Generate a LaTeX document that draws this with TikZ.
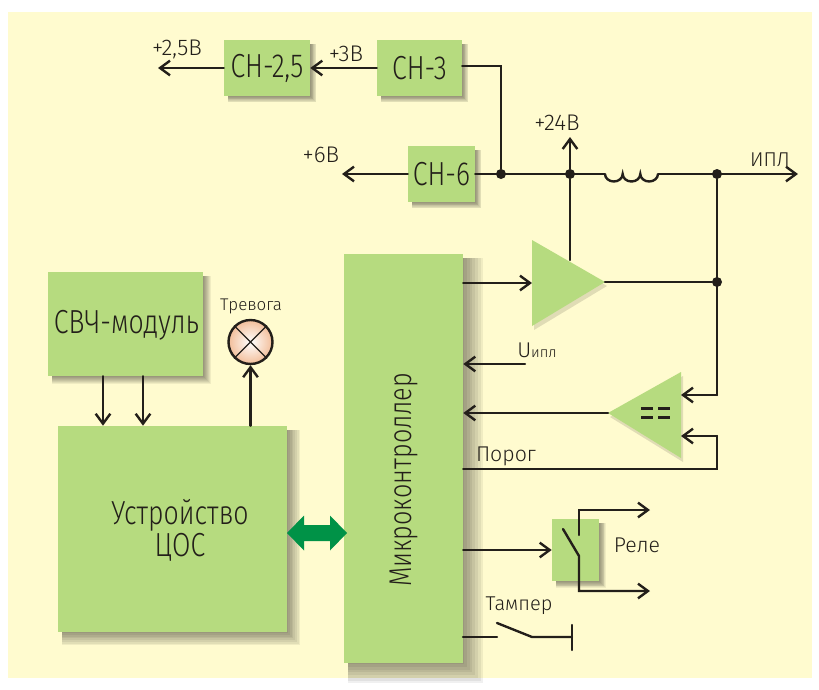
\documentclass[tikz,border=0pt]{standalone}
\usepackage{fontspec}
\setmainfont[FakeStretch=0.8,UprightFont={* Light}]{Fira Sans}
\newfontfamily\labfont[FakeStretch=1.0,UprightFont={* Light}]{Fira Sans}
\usetikzlibrary{arrows.meta}
\definecolor{cream}{HTML}{FFFBCF}
\definecolor{boxgreen}{HTML}{B6DB7F}
\definecolor{wire}{HTML}{231F1A}
\definecolor{bus}{HTML}{009247}
\definecolor{peach}{HTML}{F2BE9A}
\newcommand{\softshadow}[5]{% x1 y1 x2 y2 radius
  \foreach \k in {1,...,8}{
    \pgfmathsetmacro{\rr}{#5*(1-\k/8)}
    \fill[black,opacity=0.06] (#1+4,#2+4) rectangle (#3+1+\rr,#4+1+\rr);
  }}
\tikzset{
  x=0.75pt,y=-0.75pt,
  wirel/.style={draw=wire,line width=1.8pt,line cap=round,line join=miter},
  arr/.style={wirel,-{Straight Barb[length=7.5pt,width=11pt,line width=1.8pt]}},
  block/.style={fill=boxgreen,inner sep=0pt,text=wire,align=center},
  big/.style={font=\fontsize{25}{26}\selectfont},
  lab/.style={text=wire,inner sep=0pt,font=\labfont\fontsize{16}{18}\selectfont},
  dot/.style={circle,fill=wire,inner sep=0pt,minimum size=7.5pt},
  tri/.style={fill=boxgreen}
}
\begin{document}
\begin{tikzpicture}
\useasboundingbox (0,0) rectangle (819,690);
\fill[white] (0,0) rectangle (819,690);
\fill[cream] (8,12) rectangle (812,678);
% shadows
\softshadow{224}{40}{310}{96}{6}
\softshadow{377}{40}{462}{96}{6}
\softshadow{408}{146}{475}{202}{6}
\softshadow{48}{272}{203}{376}{8}
\softshadow{58}{426}{287}{632}{14}
\softshadow{344}{254}{463}{663}{22}
\softshadow{552}{519}{599}{581}{7}
\fill[black,opacity=0.12] (534,244) -- (534,330) -- (607,286) -- cycle;
\fill[black,opacity=0.12] (683,376) -- (683,462) -- (610,417) -- cycle;
% blocks
\node[block,big,minimum width=64.5pt,minimum height=42pt] (ch25) at (267,68) {СН-2,5};
\node[block,big,minimum width=63.75pt,minimum height=42pt] (ch3) at (419.5,68) {СН-3};
\node[block,big,minimum width=50.25pt,minimum height=42pt] (ch6) at (441.5,174) {СН-6};
\node[block,minimum width=116.25pt,minimum height=78pt] (svch) at (125.5,324) {};
\node[text=wire,inner sep=0pt,big] (svchtxt) at (126.5,325) {СВЧ-модуль};
\node[block,minimum width=171.75pt,minimum height=154.5pt] (dsp) at (172.5,529) {};
\node[text=wire,inner sep=0pt,big] (dsptxt1) at (180,515) {Устройство};
\node[text=wire,inner sep=0pt,big] (dsptxt2) at (180,547) {ЦОС};
\node[block,minimum width=89.25pt,minimum height=306.75pt] (mcu) at (403.5,458.5) {};
\node[text=wire,inner sep=0pt,rotate=90,font=\fontsize{23.6}{25}\selectfont] (mcutxt) at (404,480) {Микроконтроллер};
\node[block,minimum width=35.25pt,minimum height=46.5pt] (relay) at (575.5,550) {};
% triangles
\coordinate (a1) at (532,240); \coordinate (a2) at (532,326); \coordinate (aout) at (605,282);
\fill[tri] (a1) -- (a2) -- (aout) -- cycle;
\coordinate (c1) at (681,372); \coordinate (c2) at (681,458); \coordinate (cout) at (608,413);
\fill[tri] (c1) -- (c2) -- (cout) -- cycle;
\draw[wire,line width=1.7pt] (641,408.5) -- (653,408.5) (641,417.5) -- (653,417.5) (658,408.5) -- (670,408.5) (658,417.5) -- (670,417.5);
% lamp
\node[circle,minimum size=33pt,inner sep=0pt,draw=wire,line width=1.8pt,inner color=white,outer color=peach] (lamp) at (250.5,342) {};
\draw[wire,line width=0.9pt] (lamp.north west) -- (lamp.south east) (lamp.north east) -- (lamp.south west);
% upper rail
\coordinate (o25) at (158,68);
\coordinate (o6) at (342,174);
\node[dot] (j1) at (501,174) {};
\node[dot] (j2) at (570,174) {};
\node[dot] (j3) at (717,174) {};
\node[dot] (j4) at (717,282) {};
\coordinate (o24) at (570,137);
\coordinate (oipl) at (798,174);
\coordinate (l1) at (605,174);
\coordinate (l2) at (658,174);
\draw[arr] (ch25.west) -- (o25);
\draw[arr] (ch3.west) -- (ch25.east);
\draw[arr] (ch6.west) -- (o6);
\draw[wirel] (ch3.east |- 0,66) -- (501,66) -- (j1);
\draw[wirel] (ch6.east) -- (l1);
\draw[wirel,line cap=butt] (l1) arc[start angle=180,end angle=0,x radius=8.83,y radius=7.5]
  arc[start angle=180,end angle=0,x radius=8.83,y radius=7.5]
  arc[start angle=180,end angle=0,x radius=8.83,y radius=7.5];
\draw[arr] (l2) -- (oipl);
\draw[arr] (j2) -- (o24);
\draw[wirel] (j2) -- (570,260);
\draw[wirel] (aout) -- (j4);
\draw[wirel] (j3) -- (717,395);
\draw[arr] (717,395) -- (c1 |- 0,395);
\draw[arr] (mcu.east |- 0,283) -- (a1 |- 0,283);
\coordinate (uipl) at (525,364);
\draw[arr] (uipl) -- (mcu.east |- uipl);
\draw[arr] (cout) -- (mcu.east |- cout);
\draw[wirel] (mcu.east |- 0,469) -- (717,469) -- (717,436);
\draw[arr] (717,436) -- (c1 |- 0,436);
% relay
\draw[arr] (mcu.east |- relay) -- (relay.west);
\coordinate (r1) at (650,510);
\coordinate (r2) at (650,591);
\draw[arr] (579,535) -- (579,510) -- (r1);
\draw[arr] (563,529) -- (579,556) -- (579,591) -- (r2);
% tamper
\coordinate (t0) at (463,637); \coordinate (t1) at (497,637); \coordinate (t2) at (497,623); \coordinate (t3) at (532,637); \coordinate (t4) at (572,637);
\draw[wirel] (t0) -- (t1);
\draw[wirel] (t2) -- (t3) -- (t4);
\draw[wirel] (572,625) -- (572,650);
% left
\draw[arr] (svch.south -| 103,0) -- (dsp.north -| 103,0);
\draw[arr] (svch.south -| 143,0) -- (dsp.north -| 143,0);
\draw[arr] (dsp.north -| lamp.south) -- (lamp.south);
% bus arrow
\fill[bus] (287,533) -- (304,515.5) -- (304,525) -- (330,525) -- (330,515.5) -- (347,533) -- (330,550.5) -- (330,541) -- (304,541) -- (304,550.5) -- cycle;
% labels
\node[lab,font=\labfont\fontsize{17}{18}\selectfont] (t25) at (177,49) {+2,5В};
\node[lab,font=\labfont\fontsize{17}{18}\selectfont] (t3) at (346,54) {+3В};
\node[lab,font=\labfont\fontsize{17}{18}\selectfont] (t6) at (321,155) {+6В};
\node[lab,font=\labfont\fontsize{17}{18}\selectfont] (t24) at (557,123) {+24В};
\node[lab,font=\labfont\fontsize{15}{18}\selectfont] (tipl) at (770,160) {ИПЛ};
\node[lab] (tu) at (537,350) {U\fontsize{11}{13}\selectfont ипл};
\node[lab] (tp) at (506,456) {Порог};
\node[lab] (tr) at (637,545) {Реле};
\node[lab,font=\labfont\fontsize{15}{18}\selectfont] (tt) at (519,606) {Тампер};
\node[lab,font=\labfont\fontsize{12.7}{15}\selectfont] (tal) at (251,306) {Тревога};
\end{tikzpicture}
\end{document}
